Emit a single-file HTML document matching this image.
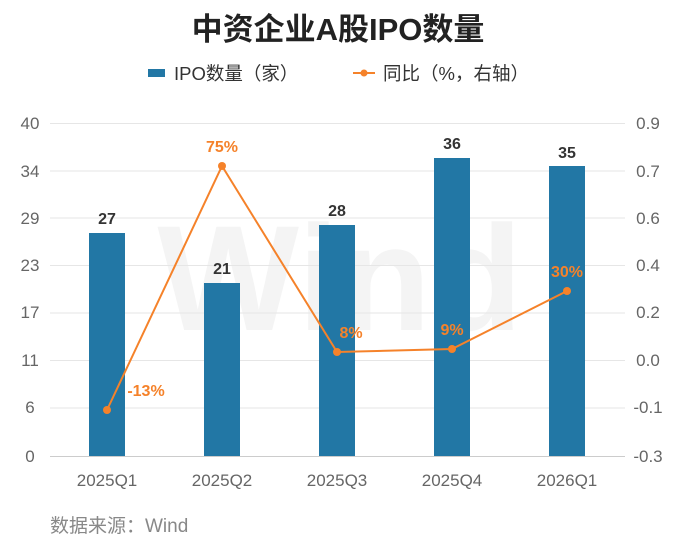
<!DOCTYPE html>
<html><head><meta charset="utf-8"><style>
body{margin:0;background:#fff;}
svg text{font-family:"Liberation Sans","Noto Sans CJK SC",sans-serif;}
</style></head><body>
<svg width="684" height="538" viewBox="0 0 684 538" xmlns="http://www.w3.org/2000/svg">
<rect width="684" height="538" fill="#fff"/>
<text x="338" y="40" text-anchor="middle" font-size="31" font-weight="bold" fill="#222">中资企业A股IPO数量</text>
<rect x="148" y="69" width="17" height="8" fill="#2277a5"/>
<text x="174" y="80" font-size="18.5" fill="#333">IPO数量（家）</text>
<line x1="353" y1="73" x2="375" y2="73" stroke="#f5822a" stroke-width="2"/>
<circle cx="364" cy="73" r="3.5" fill="#f5822a"/>
<text x="383" y="80" font-size="18.5" fill="#333">同比（%，右轴）</text>
<text x="340" y="330" text-anchor="middle" font-size="150" font-weight="bold" fill="#000" opacity="0.04">Wind</text>
<g stroke="#e6e6e6" stroke-width="1">
<line x1="50" y1="123.5" x2="625" y2="123.5"/><line x1="50" y1="171" x2="625" y2="171"/>
<line x1="50" y1="218" x2="625" y2="218"/><line x1="50" y1="265.5" x2="625" y2="265.5"/>
<line x1="50" y1="313" x2="625" y2="313"/><line x1="50" y1="360.5" x2="625" y2="360.5"/>
<line x1="50" y1="408" x2="625" y2="408"/>
</g>
<line x1="50" y1="456.5" x2="625" y2="456.5" stroke="#ccc"/>
<g font-size="17" fill="#666" text-anchor="middle">
<text x="30" y="129">40</text><text x="30" y="177">34</text><text x="30" y="224">29</text><text x="30" y="271">23</text><text x="30" y="318">17</text><text x="30" y="366">11</text><text x="30" y="413">6</text><text x="30" y="462">0</text>
<text x="648" y="129">0.9</text><text x="648" y="177">0.7</text><text x="648" y="224">0.6</text><text x="648" y="271">0.4</text><text x="648" y="318">0.2</text><text x="648" y="366">0.0</text><text x="648" y="413">-0.1</text><text x="648" y="462">-0.3</text>
<text x="107" y="486">2025Q1</text><text x="222" y="486">2025Q2</text><text x="337" y="486">2025Q3</text><text x="452" y="486">2025Q4</text><text x="567" y="486">2026Q1</text>
</g>
<g fill="#2277a5">
<rect x="89" y="233" width="36" height="223"/>
<rect x="204" y="283" width="36" height="173"/>
<rect x="319" y="225" width="36" height="231"/>
<rect x="434" y="158" width="36" height="298"/>
<rect x="549" y="166" width="36" height="290"/>
</g>
<g font-size="16" font-weight="bold" fill="#333" text-anchor="middle">
<text x="107" y="224">27</text><text x="222" y="274">21</text><text x="337" y="216">28</text><text x="452" y="149">36</text><text x="567" y="158">35</text>
</g>
<polyline points="107,410 222,166 337,352 452,349 567,291" fill="none" stroke="#f5822a" stroke-width="2"/>
<g fill="#f5822a">
<circle cx="107" cy="410" r="4"/><circle cx="222" cy="166" r="4"/><circle cx="337" cy="352" r="4"/><circle cx="452" cy="349" r="4"/><circle cx="567" cy="291" r="4"/>
</g>
<g font-size="16" font-weight="bold" fill="#f5822a" text-anchor="middle">
<text x="146" y="396">-13%</text><text x="222" y="152">75%</text><text x="351" y="338">8%</text><text x="452" y="335">9%</text><text x="567" y="277">30%</text>
</g>
<text x="50" y="532" font-size="19" fill="#888">数据来源：Wind</text>
</svg>
</body></html>
